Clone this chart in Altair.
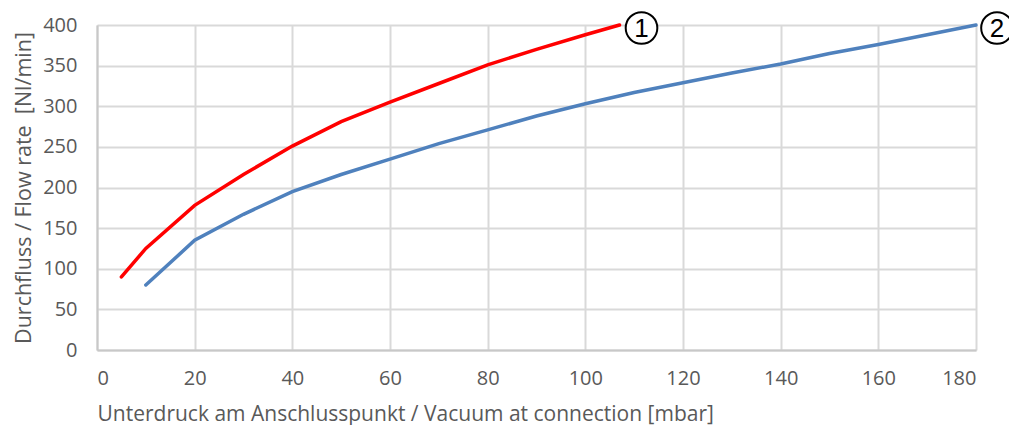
import altair as alt
import pandas as pd

red_x = [5, 10, 20, 30, 40, 50, 60, 70, 80, 90, 100, 107]
red_y = [90, 125, 178, 216, 251, 281, 305, 328, 351, 370, 388, 400]
blue_x = [10, 20, 30, 40, 50, 60, 70, 80, 90, 100, 110, 120, 130, 140, 150, 160, 170, 180]
blue_y = [80, 135, 167, 195, 216, 235, 254, 271, 288, 303, 317, 329, 341, 352, 365, 376, 388, 400]
series_names = ["1", "2"]
x_ticks = list(range(0, 181, 20))
y_ticks = list(range(0, 401, 50))

df = pd.concat([
    pd.DataFrame({"x": red_x, "y": red_y, "s": series_names[0]}),
    pd.DataFrame({"x": blue_x, "y": blue_y, "s": series_names[1]}),
])
ends = pd.DataFrame({
    "x": [red_x[-1], blue_x[-1]],
    "y": [red_y[-1], blue_y[-1]],
    "s": series_names,
})

FONT = "Open Sans"
GREY = "#595959"

xs = alt.X("x:Q", scale=alt.Scale(domain=[0, 180], nice=False),
           axis=alt.Axis(values=x_ticks, title="Unterdruck am Anschlusspunkt / Vacuum at connection [mbar]",
                         titleAnchor="start", titleAlign="left", titlePadding=15, labelPadding=18,
                         titleFontSize=21))
ys = alt.Y("y:Q", scale=alt.Scale(domain=[0, 400], nice=False),
           axis=alt.Axis(values=y_ticks, title="Durchfluss / Flow rate\u00a0\u00a0[Nl/min]",
                         titlePadding=7, labelPadding=20, titleFontSize=21.5))

lines = alt.Chart(df).mark_line(strokeWidth=3.5, strokeCap="round").encode(
    x=xs, y=ys,
    color=alt.Color("s:N", scale=alt.Scale(domain=series_names, range=["#ff0000", "#4f81bd"]), legend=None),
    detail="s:N",
)

circ_red = alt.Chart(ends[ends.s == "1"]).mark_point(
    shape="circle", size=1000, filled=True, fill="white", stroke="black", strokeWidth=2,
    opacity=1, xOffset=22, yOffset=3).encode(x="x:Q", y="y:Q")
txt_red = alt.Chart(ends[ends.s == "1"]).mark_text(
    font="Liberation Sans", fontSize=26, color="black", dx=22, dy=4, baseline="middle").encode(
    x="x:Q", y="y:Q", text="s:N")
circ_blue = alt.Chart(ends[ends.s == "2"]).mark_point(
    shape="circle", size=1000, filled=True, fill="white", stroke="black", strokeWidth=2,
    opacity=1, xOffset=21, yOffset=3).encode(x="x:Q", y="y:Q")
txt_blue = alt.Chart(ends[ends.s == "2"]).mark_text(
    font="Liberation Sans", fontSize=26, color="black", dx=21, dy=4, baseline="middle").encode(
    x="x:Q", y="y:Q", text="s:N")

chart = alt.layer(lines, circ_red, txt_red, circ_blue, txt_blue).properties(
    width=879, height=325,
    autosize=alt.AutoSizeParams(type="none"),
    padding={"left": 89, "top": 17, "right": 33, "bottom": 75},
).configure_view(stroke=None).configure_axis(
    gridColor="#d9d9d9", gridWidth=2, domainColor="#c8c8c8", domainWidth=2,
    ticks=False, labelFont=FONT, titleFont=FONT, labelFontSize=20,
    labelColor=GREY, titleColor=GREY, titleFontWeight="normal",
)

chart.save("out.html", embed_options={"renderer": "svg", "actions": False})
